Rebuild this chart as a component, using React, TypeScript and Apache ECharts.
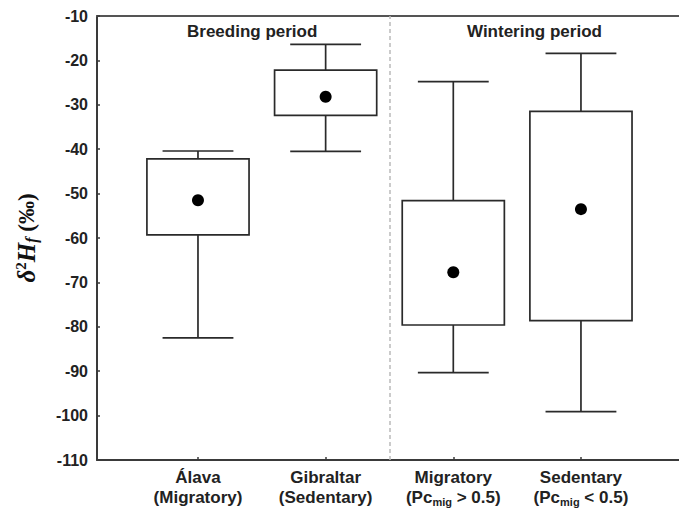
import React, { useEffect, useRef } from "react";
import * as echarts from "echarts";

const categories = ["Álava", "Gibraltar", "Migratory", "Sedentary"];
const subLabels = ["(Migratory)", "(Sedentary)", "(Pc_mig > 0.5)", "(Pc_mig < 0.5)"];
const positions = [1, 2, 3, 4];
const whiskerLow = [-82.5, -40.5, -90.3, -99.1];
const boxLow = [-59.3, -32.4, -79.6, -78.6];
const boxHigh = [-42.2, -22.2, -51.6, -31.5];
const whiskerHigh = [-40.4, -16.4, -24.8, -18.4];
const means = [-51.5, -28.2, -67.7, -53.5];
const periods = ["Breeding period", "Wintering period"];
const dividerAt = 2.5;

const LINE = "#2a2a2a";
const FONT = "'Liberation Sans', Arial, sans-serif";

function richSub(s: string) {
  const m = s.match(/^(.*)_mig(.*)$/);
  if (!m) return "{b|" + s + "}";
  return "{b|" + m[1] + "}{s|mig}{b|" + m[2] + "}";
}

export default function App() {
  const ref = useRef<HTMLDivElement>(null);
  useEffect(() => {
    document.body.style.margin = "0";
    const chart = echarts.init(ref.current!, null, { renderer: "svg" });
    const boxData = positions.map((p, i) => [p, whiskerLow[i], boxLow[i], boxHigh[i], whiskerHigh[i]]);
    const option: any = {
      animation: false,
      backgroundColor: "#fff",
      grid: { left: 97, right: 0, top: 16, bottom: 53 },
      xAxis: [
        {
          type: "value",
          min: 0.209,
          max: 4.768,
          position: "bottom",
          splitLine: { show: false },
          axisLine: { show: true, onZero: false, lineStyle: { color: "#3a3a3a", width: 2 } },
          axisTick: { show: true, inside: true, length: 3, customValues: positions, lineStyle: { color: "#3a3a3a", width: 1.5 } },
          axisLabel: {
            show: true,
            customValues: positions,
            margin: 7,
            formatter: (v: number) => {
              const i = Math.round(v) - 1;
              if (i < 0 || i > 3) return "";
              return "{b|" + categories[i] + "}\n" + richSub(subLabels[i]);
            },
            rich: {
              b: { fontFamily: FONT, fontWeight: "bold", fontSize: 17, color: "#222", lineHeight: 20 },
              s: { fontFamily: FONT, fontWeight: "bold", fontSize: 11, color: "#222", lineHeight: 20, padding: [10, 0, 0, 0] },
            },
          },
        },
        {
          type: "value",
          min: 0.209,
          max: 4.768,
          position: "top",
          splitLine: { show: false },
          axisLine: { show: true, onZero: false, lineStyle: { color: "#555", width: 2 } },
          axisTick: { show: false },
          axisLabel: { show: false },
        },
      ],
      yAxis: {
        type: "value",
        min: -110,
        max: -10,
        interval: 10,
        splitLine: { show: false },
        axisLine: { show: true, onZero: false, lineStyle: { color: "#3a3a3a", width: 2 } },
        axisTick: { show: true, inside: true, length: 3, lineStyle: { color: "#3a3a3a", width: 1.5 } },
        axisLabel: { fontFamily: FONT, fontWeight: "bold", fontSize: 16, color: "#222", margin: 9 },
        name: "{d|δ}{sup|2}{h|H}{sub|f}{p| (‰)}",
        nameLocation: "middle",
        nameRotate: 90,
        nameGap: 57,
        nameTextStyle: {
          fontFamily: "'Liberation Serif', 'Times New Roman', serif",
          fontWeight: "bold",
          fontSize: 23,
          color: "#111",
          rich: {
            d: { fontFamily: "'Liberation Serif', serif", fontWeight: "bold", fontStyle: "italic", fontSize: 25, color: "#111" },
            sup: { fontFamily: "'Liberation Serif', serif", fontWeight: "bold", fontSize: 15, color: "#111", padding: [0, 0, 12, 0] },
            h: { fontFamily: "'Liberation Serif', serif", fontWeight: "bold", fontStyle: "italic", fontSize: 25, color: "#111" },
            sub: { fontFamily: "'Liberation Serif', serif", fontWeight: "bold", fontStyle: "italic", fontSize: 16, color: "#111", padding: [10, 0, 0, 0] },
            p: { fontFamily: "'Liberation Serif', serif", fontWeight: "bold", fontSize: 23, color: "#111" },
          },
        },
      },
      graphic: [
        { type: "text", left: 187, top: 23, style: { text: periods[0], font: "bold 17px " + FONT, fill: "#222" } },
        { type: "text", left: 467, top: 23, style: { text: periods[1], font: "bold 17px " + FONT, fill: "#222" } },
      ],
      series: [
        {
          type: "custom",
          data: boxData,
          encode: { x: 0, y: [1, 2, 3, 4] },
          renderItem: (params: any, api: any) => {
            const x = api.value(0);
            const wl = api.coord([x, api.value(1)]);
            const bl = api.coord([x, api.value(2)]);
            const bh = api.coord([x, api.value(3)]);
            const wh = api.coord([x, api.value(4)]);
            const halfBox = api.size([0.8, 0])[0] / 2;
            const halfCap = api.size([0.555, 0])[0] / 2;
            const cx = wl[0];
            const ls = { stroke: LINE, lineWidth: 1.7, fill: null };
            return {
              type: "group",
              children: [
                { type: "line", shape: { x1: cx, y1: wh[1], x2: cx, y2: bh[1] }, style: ls },
                { type: "line", shape: { x1: cx, y1: bl[1], x2: cx, y2: wl[1] }, style: ls },
                { type: "line", shape: { x1: cx - halfCap, y1: wh[1], x2: cx + halfCap, y2: wh[1] }, style: ls },
                { type: "line", shape: { x1: cx - halfCap, y1: wl[1], x2: cx + halfCap, y2: wl[1] }, style: ls },
                { type: "rect", shape: { x: cx - halfBox, y: bh[1], width: halfBox * 2, height: bl[1] - bh[1] }, style: { stroke: LINE, lineWidth: 1.7, fill: "#fff" } },
              ],
            };
          },
          markLine: {
            silent: true,
            symbol: "none",
            label: { show: false },
            lineStyle: { color: "#bbb", type: [4, 3], width: 1.5 },
            data: [{ xAxis: dividerAt }],
          },
          z: 2,
        },
        {
          type: "scatter",
          data: positions.map((p, i) => [p, means[i]]),
          symbol: "circle",
          symbolSize: 12,
          itemStyle: { color: "#000", opacity: 1 },
          z: 5,
        },
      ],
    };
    chart.setOption(option);
    return () => chart.dispose();
  }, []);
  return <div ref={ref} style={{ width: 679, height: 513 }} />;
}
